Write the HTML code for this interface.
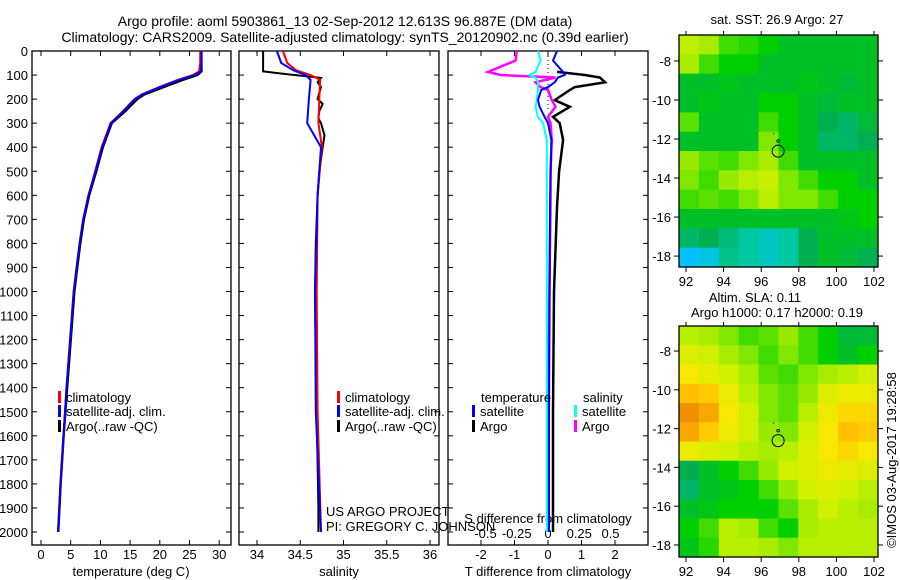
<!DOCTYPE html>
<html><head><meta charset="utf-8"><style>
body{margin:0;background:#fff;}
svg{display:block;font-family:"Liberation Sans",sans-serif;}
text{font-size:13px;fill:#000;}
</style></head><body>
<svg id="c" width="900" height="580" viewBox="0 0 900 580"></svg>
<script>
// ---- profile data ----
const tDepth=[0,50,85,100,120,150,180,200,250,300,400,500,600,700,800,900,1000,1200,1400,1600,1800,2000];
const tArgo=[27.0,27.0,27.0,26.3,23.8,20.6,17.4,16.2,14.2,11.9,10.4,9.3,8.1,7.2,6.6,6.1,5.6,5.0,4.4,3.8,3.3,2.9];
const tClim=[26.8,26.8,26.6,25.6,23.0,19.9,17.0,15.7,13.8,11.7,10.2,9.1,8.0,7.1,6.5,6.0,5.5,4.9,4.3,3.8,3.3,2.9];
const tSat=[27.0,27.0,26.9,25.9,23.2,20.1,17.1,15.8,13.9,11.8,10.3,9.2,8.0,7.1,6.5,6.0,5.5,4.9,4.3,3.8,3.3,2.9];
const sDepthArgo=[0,85,95,112,130,150,200,220,250,280,300,350,400,500,600,800,1000,1500,1900,2000];
const sArgo=[34.07,34.07,34.30,34.74,34.70,34.74,34.70,34.76,34.72,34.71,34.74,34.78,34.76,34.72,34.70,34.68,34.67,34.69,34.71,34.71];
const sDepthClim=[0,50,80,100,120,200,300,400,600,1000,1500,2000];
const sClim=[34.30,34.35,34.45,34.62,34.73,34.72,34.71,34.75,34.70,34.69,34.70,34.74];
const sSat=[34.23,34.28,34.42,34.56,34.62,34.60,34.58,34.74,34.70,34.67,34.68,34.74];
const dDepth=[0,40,87,100,110,130,150,162,204,232,274,300,370,500,650,1000,1500,2000];
const dTArgo=[null,null,0.27,1.1,1.55,1.7,0.8,0.65,0.2,0.65,0.15,0.35,0.45,0.33,0.27,0.18,0.15,0.15];
const dTSat=[0.27,0.15,0.45,0.5,0.3,0.2,0.0,-0.2,-0.3,-0.25,-0.1,0.0,0.1,0.08,0.06,0.05,0.03,0.03];
const dSArgo=[-0.25,-0.26,-0.48,-0.38,0.06,-0.1,-0.06,0.0,0.03,0.06,0.0,0.02,0.03,0.02,0.02,0.01,0.0,0.0];
const dSSat=[-0.08,-0.06,-0.1,-0.15,-0.1,-0.08,-0.08,-0.08,-0.09,-0.1,-0.08,-0.04,-0.01,-0.01,-0.01,-0.01,-0.01,-0.01];
// ---- map data (rows lat -7..-18, cols lon 92..101), colormap index 0..1 ----
const sstGrid=[
[0.73,0.7,0.6,0.58,0.55,0.5,0.5,0.5,0.5,0.5],
[0.7,0.6,0.55,0.55,0.5,0.5,0.5,0.5,0.5,0.5],
[0.5,0.5,0.52,0.5,0.5,0.5,0.52,0.5,0.48,0.5],
[0.5,0.52,0.5,0.5,0.55,0.55,0.5,0.48,0.5,0.5],
[0.62,0.5,0.5,0.5,0.6,0.55,0.5,0.45,0.42,0.48],
[0.5,0.5,0.5,0.5,0.65,0.55,0.5,0.42,0.42,0.45],
[0.68,0.62,0.6,0.65,0.7,0.6,0.5,0.5,0.5,0.5],
[0.65,0.6,0.68,0.72,0.74,0.65,0.6,0.55,0.55,0.5],
[0.6,0.62,0.6,0.65,0.72,0.65,0.65,0.6,0.55,0.55],
[0.5,0.5,0.5,0.5,0.5,0.5,0.5,0.5,0.52,0.55],
[0.42,0.45,0.4,0.35,0.3,0.35,0.45,0.5,0.5,0.5],
[0.2,0.25,0.38,0.35,0.3,0.35,0.45,0.5,0.48,0.45]];
const slaGrid=[
[0.72,0.7,0.65,0.6,0.62,0.68,0.6,0.55,0.48,0.48],
[0.78,0.75,0.7,0.65,0.6,0.65,0.6,0.55,0.5,0.55],
[0.85,0.8,0.75,0.7,0.62,0.6,0.65,0.7,0.72,0.75],
[0.92,0.9,0.82,0.72,0.65,0.62,0.68,0.78,0.82,0.82],
[0.98,0.95,0.85,0.75,0.65,0.62,0.72,0.82,0.88,0.88],
[0.95,0.9,0.82,0.75,0.68,0.65,0.75,0.85,0.92,0.9],
[0.82,0.78,0.75,0.72,0.7,0.72,0.78,0.85,0.88,0.85],
[0.45,0.5,0.55,0.6,0.68,0.75,0.78,0.82,0.8,0.78],
[0.42,0.5,0.52,0.55,0.6,0.68,0.75,0.78,0.75,0.72],
[0.5,0.52,0.55,0.55,0.55,0.62,0.7,0.75,0.72,0.7],
[0.55,0.6,0.72,0.7,0.6,0.55,0.7,0.72,0.72,0.72],
[0.52,0.58,0.72,0.72,0.7,0.65,0.72,0.72,0.72,0.72]];
const argoLon=96.9, argoLat=-12.62;
const depthTicks=[0,100,200,300,400,500,600,700,800,900,1000,1100,1200,1300,1400,1500,1600,1700,1800,1900,2000];
const tTicks=[0,5,10,15,20,25,30];
const sTicks=[34,34.5,35,35.5,36];
const dTTicks=[-2,-1,0,1,2];
const dSTicks=[-0.5,-0.25,0,0.25,0.5];
const latTicks=[-8,-10,-12,-14,-16,-18];
const lonTicks=[92,94,96,98,100,102];

const svg=document.getElementById('c');const NS='http://www.w3.org/2000/svg';
function el(t,a,p){const e=document.createElementNS(NS,t);for(const k in a)e.setAttribute(k,a[k]);(p||svg).appendChild(e);return e;}
function txt(x,y,s,anchor,name,extra){const e=el('text',Object.assign({x:x,y:y,'text-anchor':anchor||'start'},extra||{}));e.textContent=s;


return e;}
const yD=d=>51+d*0.2405;
const xT=v=>41+v*5.94;
const xS=v=>257+(v-34)*86.5;
const xDT=v=>548+v*33.5;
const xDS=v=>548+v*125;
const TOP=51,BOT=545;
function frame(x0,x1,name){const r=el('rect',{x:x0,y:TOP,width:x1-x0,height:BOT-TOP,fill:'none',stroke:'#000','stroke-width':1.3});

}
function line(xs,ds,sx,col,w,name){let p='';xs.forEach((v,i)=>{if(v===null)return;p+=(p?'L':'M')+sx(v).toFixed(1)+','+yD(ds[i]).toFixed(1);});
const e=el('path',{d:p,fill:'none',stroke:col,'stroke-width':w,'stroke-linejoin':'miter'});

}
function xticks(ticks,sx,y,name){ticks.forEach(t=>{el('line',{x1:sx(t),x2:sx(t),y1:TOP,y2:TOP+5,stroke:'#000'});el('line',{x1:sx(t),x2:sx(t),y1:BOT,y2:BOT-5,stroke:'#000'});
if(y)txt(sx(t),y,String(t),'middle',name);});}
// titles
txt(345,26,'Argo profile: aoml 5903861_13 02-Sep-2012 12.613S 96.887E (DM data)','middle','title-line-1',{style:'font-size:14px'});
txt(345,42,'Climatology: CARS2009. Satellite-adjusted climatology: synTS_20120902.nc (0.39d earlier)','middle','title-line-2',{style:'font-size:14px'});
// panel 1
frame(32,231,'temperature-panel');
depthTicks.forEach(d=>{el('line',{x1:32,x2:37,y1:yD(d),y2:yD(d),stroke:'#000'});el('line',{x1:231,x2:226,y1:yD(d),y2:yD(d),stroke:'#000'});
el('line',{x1:239,x2:244,y1:yD(d),y2:yD(d),stroke:'#000'});el('line',{x1:439,x2:434,y1:yD(d),y2:yD(d),stroke:'#000'});
el('line',{x1:448,x2:453,y1:yD(d),y2:yD(d),stroke:'#000'});el('line',{x1:648,x2:643,y1:yD(d),y2:yD(d),stroke:'#000'});
txt(28,yD(d)+5,String(d),'end','depth-tick-label');});
xticks(tTicks,xT,559,'temperature-tick-label');
txt(131,576,'temperature (deg C)','middle','temperature-axis-title');
line(tArgo,tDepth,xT,'#000',2.5,'temperature-argo-line');
line(tClim,tDepth,xT,'#f00',2,'temperature-climatology-line');
line(tSat,tDepth,xT,'#00f',2,'temperature-satellite-line');
function legend(x,y,col,label,name){const r=el('rect',{x:x,y:y-11,width:3,height:12,fill:col});


txt(x+8,y,label,'start',name);}
legend(58,402,'#f00','climatology','legend-climatology');
legend(58,416,'#00f','satellite-adj. clim.','legend-satellite');
legend(58,431,'#000','Argo(..raw -QC)','legend-argo');
// panel 2
frame(239,439,'salinity-panel');
xticks(sTicks,xS,559,'salinity-tick-label');
txt(339,576,'salinity','middle','salinity-axis-title');
line(sArgo,sDepthArgo,xS,'#000',2,'salinity-argo-line');
line(sClim,sDepthClim,xS,'#f00',2,'salinity-climatology-line');
line(sSat,sDepthClim,xS,'#00f',2,'salinity-satellite-line');
legend(337,402,'#f00','climatology','legend-climatology-s');
legend(337,416,'#00f','satellite-adj. clim.','legend-satellite-s');
legend(337,431,'#000','Argo(..raw -QC)','legend-argo-s');
txt(326,516,'US ARGO PROJECT','start','project-label');
txt(326,531,'PI: GREGORY C. JOHNSON','start','pi-label');
// panel 3
frame(448,648,'difference-panel');
xticks(dTTicks,xDT,559,'t-diff-tick-label');
txt(548,576,'T difference from climatology','middle','t-diff-axis-title');
dSTicks.forEach(t=>txt(xDS(t),538,String(t),'middle','s-diff-tick-label'));
txt(548,523,'S difference from climatology','middle','s-diff-axis-title');
el('line',{x1:548,x2:548,y1:52,y2:110,stroke:'#000','stroke-dasharray':'1,3'});
line(dTArgo,dDepth,xDT,'#000',2.5,'t-diff-argo-line');
line(dSArgo,dDepth,xDS,'#f0f',2.5,'s-diff-argo-line');
line(dSSat,dDepth,xDS,'#0ff',2,'s-diff-satellite-line');
line(dTSat,dDepth,xDT,'#00f',2,'t-diff-satellite-line');
txt(481,402,'temperature','start','legend-temperature-header');
txt(583,402,'salinity','start','legend-salinity-header');
legend(472,416,'#00f','satellite','legend-t-satellite');
legend(472,431,'#000','Argo','legend-t-argo');
legend(574,416,'#0ff','satellite','legend-s-satellite');
legend(574,431,'#f0f','Argo','legend-s-argo');
// maps
const stops=[[0,[0,96,255]],[0.2,[0,192,255]],[0.35,[0,200,160]],[0.45,[0,176,80]],[0.55,[0,208,0]],[0.65,[128,232,0]],[0.75,[208,240,0]],[0.85,[248,232,0]],[0.92,[255,192,0]],[1,[232,128,0]]];
function cmap(v){for(let i=1;i<stops.length;i++){if(v<=stops[i][0]){const a=stops[i-1],b=stops[i];const f=(v-a[0])/(b[0]-a[0]);
return 'rgb('+a[1].map((c,j)=>Math.round(c+(b[1][j]-c)*f)).join(',')+')';}}return 'rgb(232,128,0)';}
const LON0=91.63,LON1=102.2;
function drawMap(grid,top,bot,latTop,latBot,name){
 const xL=v=>686+(v-92)*18.8;
 const yL=v=>top+(latTop-v)*(bot-top)/(latTop-latBot);
 const g=el('g',{});
 const rows=grid.length,cols=grid[0].length;const dlon=(LON1-LON0)/cols,dlat=(latTop-latBot)/rows;
 grid.forEach((row,r)=>row.forEach((v,c)=>{const x0=xL(LON0+c*dlon),x1=xL(LON0+(c+1)*dlon),y0=yL(latTop-r*dlat),y1=yL(latTop-(r+1)*dlat);
  const cell=el('rect',{x:x0,y:y0,width:x1-x0+0.6,height:y1-y0+0.6,fill:cmap(v)},g);
  
  }));
 el('rect',{x:679,y:top,width:199,height:bot-top,fill:'none',stroke:'#000','stroke-width':1.3},g);
 latTicks.forEach(t=>{el('line',{x1:679,x2:674,y1:yL(t),y2:yL(t),stroke:'#000'},g);el('line',{x1:878,x2:883,y1:yL(t),y2:yL(t),stroke:'#000'},g);
  txt(671,yL(t)+5,String(t),'end','lat-tick-label');});
 lonTicks.forEach(t=>{el('line',{x1:xL(t),x2:xL(t),y1:bot,y2:bot+5,stroke:'#000'},g);el('line',{x1:xL(t),x2:xL(t),y1:top,y2:top-4,stroke:'#000'},g);
  txt(xL(t),bot+19,String(t),'middle','lon-tick-label');});
 const c=el('circle',{cx:xL(argoLon),cy:yL(argoLat),r:6,fill:'none',stroke:'#000','stroke-width':1},g);
 
 
 el('circle',{cx:xL(argoLon),cy:yL(argoLat)-10,r:1.3,fill:'none',stroke:'#000','stroke-width':0.8},g);
 el('rect',{x:xL(argoLon)-5,y:yL(argoLat)-18,width:1,height:1,fill:'#000'},g);
}
drawMap(sstGrid,35,267,-6.67,-18.56,'sst-map');
txt(777,24,'sat. SST: 26.9 Argo: 27','middle','sst-map-title');
drawMap(slaGrid,326,557,-6.71,-18.62,'sla-map');
txt(755,302,'Altim. SLA: 0.11','middle','sla-map-title');
txt(777,317,'Argo h1000: 0.17 h2000: 0.19','middle','sla-map-subtitle');
txt(896,460,'©IMOS 03-Aug-2017 19:28:58','middle','imos-timestamp',{transform:'rotate(-90 896 460)'});
</script>
</body></html>
